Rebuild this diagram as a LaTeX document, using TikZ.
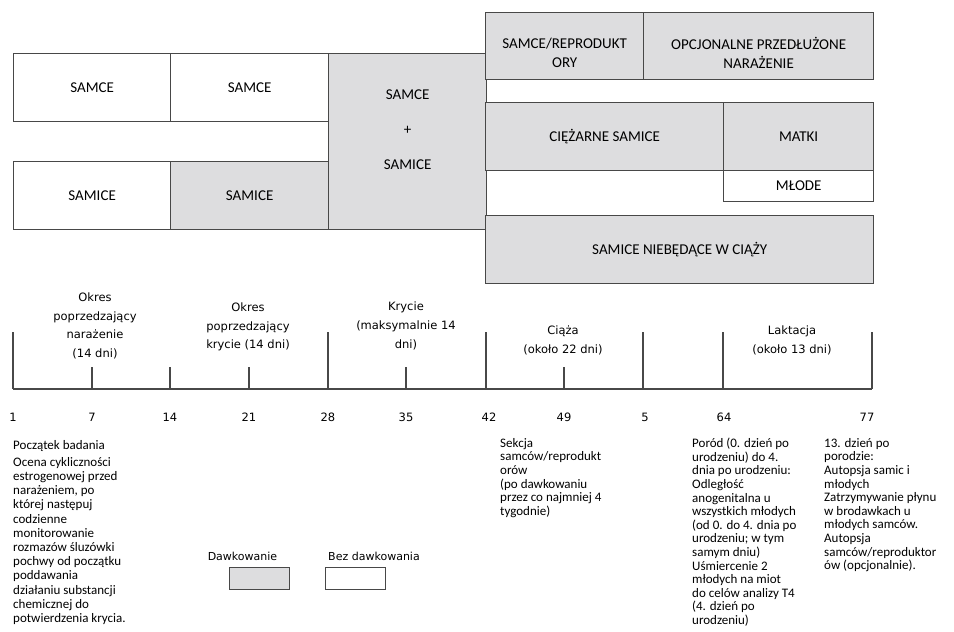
\documentclass[tikz,border=0pt]{standalone}
\usepackage{fontspec}
\setmainfont{Carlito}
\newfontfamily\tlfont{DejaVu Sans}
\usepackage{xcolor}
\usetikzlibrary{positioning}
\definecolor{dosegray}{RGB}{221,221,223}
\definecolor{edgegray}{RGB}{72,72,72}

\begin{document}
\begin{tikzpicture}[x=1pt, y=-1pt,
    box/.style={rectangle, draw=edgegray, line width=1.3pt, fill=white,
                anchor=north west, inner sep=0pt, align=center,
                font=\fontsize{15}{19}\selectfont},
    dosed/.style={box, fill=dosegray},
    boxtext/.style={align=center, inner sep=0pt, font=\fontsize{15}{19}\selectfont},
    phase/.style={align=center, inner sep=0pt,
                  font=\tlfont\fontsize{11.5}{18.7}\selectfont},
    daynum/.style={inner sep=0pt, font=\tlfont\fontsize{11.5}{14}\selectfont},
    note/.style={anchor=north west, align=left, inner sep=0pt,
                 font=\fontsize{13}{13.6}\selectfont},
    legend/.style={inner sep=0pt, font=\tlfont\fontsize{11}{14}\selectfont},
    tickline/.style={draw=edgegray, line width=1.3pt},
]
\useasboundingbox (0,0) rectangle (954,632);

% groups before mating
\node[box, minimum width=157pt, minimum height=68pt] (M1) at (13,53) {SAMCE};
\node[box, minimum width=158pt, minimum height=68pt] (M2) at (170,53) {SAMCE};
\node[box, minimum width=157pt, minimum height=68pt] (F1) at (13,161) {SAMICE};
\node[dosed, minimum width=158pt, minimum height=68pt] (F2) at (170,161) {SAMICE};

% mating
\node[dosed, minimum width=158pt, minimum height=176pt] (MF) at (328,53) {};
\node[boxtext, yshift=11.5pt] (MFt) at (MF.center) {SAMCE\\[16pt]+\\[16pt]SAMICE};

% after mating
\node[dosed, minimum width=158pt, minimum height=67pt] (SR) at (485,12) {};
\node[boxtext, yshift=-7pt] (SRt) at (SR.center) {SAMCE/REPRODUKT\\ORY};
\node[dosed, minimum width=230pt, minimum height=67pt] (OP) at (643,12) {};
\node[boxtext, yshift=-7pt] (OPt) at (OP.center) {OPCJONALNE PRZEDŁUŻONE\\NARAŻENIE};
\node[dosed, minimum width=238pt, minimum height=68pt] (CS) at (485,102) {CIĘŻARNE SAMICE};
\node[dosed, minimum width=150pt, minimum height=68pt] (MA) at (723,102) {MATKI};
\node[box, minimum width=150pt, minimum height=31pt] (ML) at (723,170) {MŁODE};
\node[dosed, minimum width=388pt, minimum height=68pt] (NC) at (485,215) {SAMICE NIEBĘDĄCE W CIĄŻY};

% time axis
\draw[tickline] (13,389) -- (872,389);
\foreach \x in {13,328,486,643,723,872}
    \draw[tickline] (\x,332) -- (\x,389);
\foreach \x in {92,170,249,406,564}
    \draw[tickline] (\x,367) -- (\x,389);
\foreach \x/\d in {13/1, 92/7, 170/14, 249/21, 328/28, 406/35,
                   489/42, 564/49, 645/5, 724/64, 867/77}
    \node[daynum] (day\d) at (\x,417) {\d};

\node[phase] (pre) at (95,326) {Okres\\poprzedzający\\narażenie\\(14 dni)};
\node[phase] (premat) at (248,327) {Okres\\poprzedzający\\krycie (14 dni)};
\node[phase] (mat) at (406,326) {Krycie\\(maksymalnie 14\\dni)};
\node[phase] (gest) at (563,340.5) {Ciąża\\(około 22 dni)};
\node[phase] (lact) at (792,340.5) {Laktacja\\(około 13 dni)};

% notes
\node[note, anchor=west] (start) at (13,446) {Początek badania};
\node[note, font=\fontsize{13}{14.2}\selectfont] (cycle) at (13,457)
    {Ocena cykliczności\\estrogenowej przed\\narażeniem, po\\której następuj\\codzienne\\monitorowanie\\rozmazów śluzówki\\pochwy od początku\\poddawania\\działaniu substancji\\chemicznej do\\potwierdzenia krycia.};
\node[note] (necropsy) at (500,438)
    {Sekcja\\samców/reprodukt\\orów\\(po dawkowaniu\\przez co najmniej 4\\tygodnie)};
\node[note] (birth) at (692,438)
    {Poród (0. dzień po\\urodzeniu) do 4.\\dnia po urodzeniu:\\Odległość\\anogenitalna u\\wszystkich młodych\\(od 0. do 4. dnia po\\urodzeniu; w tym\\samym dniu)\\Uśmiercenie 2\\młodych na miot\\do celów analizy T4\\(4. dzień po\\urodzeniu)};
\node[note] (pnd) at (824,438)
    {13. dzień po\\porodzie:\\Autopsja samic i\\młodych\\Zatrzymywanie płynu\\w brodawkach u\\młodych samców.\\Autopsja\\samców/reproduktor\\ów (opcjonalnie).};

% legend
\node[legend] (doseL) at (242.5,556) {Dawkowanie};
\node[legend] (nodoseL) at (374,556) {Bez dawkowania};
\node[dosed, line width=1pt, minimum width=60pt, minimum height=22pt] (doseK) at (229,567) {};
\node[box, line width=1pt, minimum width=60pt, minimum height=22pt] (nodoseK) at (325,567) {};
\end{tikzpicture}
\end{document}
